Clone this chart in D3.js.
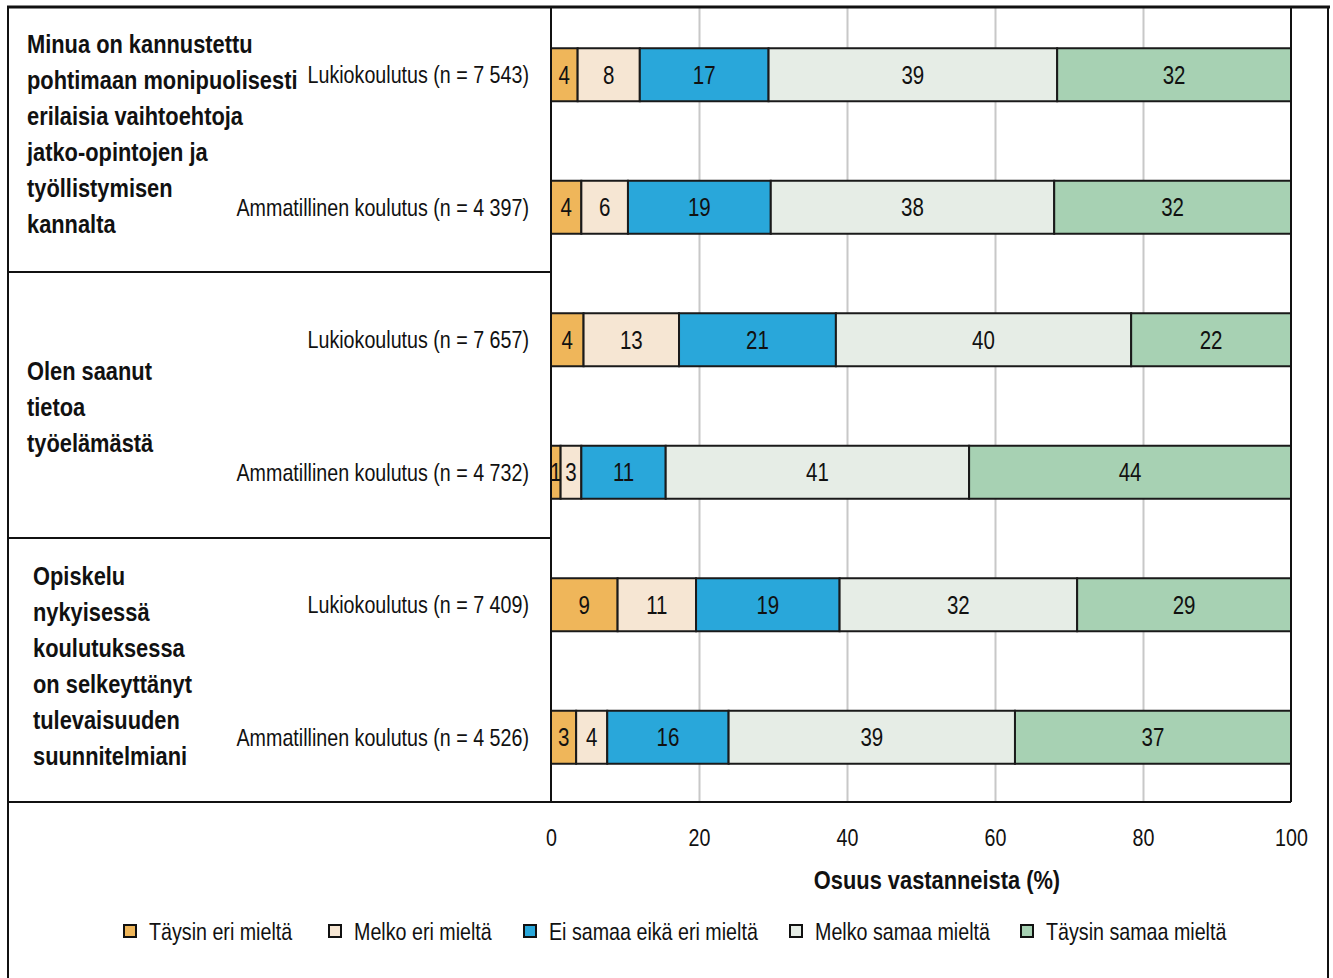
<!DOCTYPE html>
<html>
<head>
<meta charset="utf-8">
<script src="https://cdn.jsdelivr.net/npm/d3@7"></script>
<style>
  body { margin: 0; background: #fff; }
  svg text { font-family: "Liberation Sans", Arial, sans-serif; fill: #111; }
</style>
</head>
<body>
<div id="graph"></div>
<script>
// answer categories (legend order = stack order)
var categories = ["Täysin eri mieltä", "Melko eri mieltä", "Ei samaa eikä eri mieltä", "Melko samaa mieltä", "Täysin samaa mieltä"];
var colors = ["#efb65a", "#f6e6d3", "#29a7da", "#e6ede6", "#a7d1b3"];

// statement groups, label split into lines as in the picture
var groupLines = [
    ["Minua on kannustettu", "pohtimaan monipuolisesti", "erilaisia vaihtoehtoja", "jatko-opintojen ja", "työllistymisen", "kannalta"],
    ["Olen saanut", "tietoa", "työelämästä"],
    ["Opiskelu", "nykyisessä", "koulutuksessa", "on selkeyttänyt", "tulevaisuuden", "suunnitelmiani"]
];

// one row per bar
var rowLabels = [
    "Lukiokoulutus (n = 7 543)",
    "Ammatillinen koulutus (n = 4 397)",
    "Lukiokoulutus (n = 7 657)",
    "Ammatillinen koulutus (n = 4 732)",
    "Lukiokoulutus (n = 7 409)",
    "Ammatillinen koulutus (n = 4 526)"
];

// shares (%) per category, one value per row
var taysinEri  = [3.6, 4.1, 4.4, 1.3, 9.0, 3.4];
var melkoEri   = [8.4, 6.3, 12.9, 2.8, 10.6, 4.2];
var eiSamaa    = [17.4, 19.3, 21.2, 11.4, 19.4, 16.4];
var melkoSamaa = [39.0, 38.3, 39.9, 41.0, 32.1, 38.7];
var taysinSamaa = [31.6, 32.0, 21.6, 43.5, 28.9, 37.3];

var xTicks = [0, 20, 40, 60, 80, 100];

var W = 1333, H = 978;
var plotL = 551, plotR = 1291, plotT = 7, plotB = 802;
var narrow = 0.82;   // squeeze text horizontally, like a narrow font

// put x/y into a transform so the text can be squeezed
function condense(sel, s) {
    s = s || narrow;
    sel.each(function() {
        var t = d3.select(this);
        var tx = +t.attr("x") || 0, ty = +t.attr("y") || 0;
        t.attr("x", 0).attr("y", 0)
         .attr("transform", "translate(" + tx + "," + ty + ") scale(" + s + ",1)");
    });
}

var series = [taysinEri, melkoEri, eiSamaa, melkoSamaa, taysinSamaa];
var rows = rowLabels.map(function(l, i) {
    var r = { label: l, key: i };
    categories.forEach(function(c, j) { r[c] = series[j][i]; });
    return r;
});

var svg = d3.select("#graph").append("svg")
    .attr("width", W).attr("height", H);

var x = d3.scaleLinear().domain([0, 100]).range([plotL, plotR]);
var y = d3.scaleBand()
    .domain(rows.map(function(d) { return d.key; }))
    .range([plotT + 1.5, plotB + 1.5])
    .paddingInner(0.6)
    .paddingOuter(0.3);

// grid lines
svg.append("g")
    .attr("transform", "translate(0," + plotT + ")")
    .call(d3.axisBottom(x).tickValues([20, 40, 60, 80]).tickSize(plotB - plotT).tickFormat(""))
    .call(function(g) { g.select(".domain").remove(); })
    .selectAll("line")
    .attr("stroke", "#c8c8c8").attr("stroke-width", 2);

// stacked bars
var stack = d3.stack().keys(categories);
var layers = stack(rows);

var layer = svg.selectAll("g.layer")
    .data(layers)
    .enter().append("g")
    .attr("class", "layer")
    .attr("fill", function(d, i) { return colors[i]; });

layer.selectAll("rect")
    .data(function(d) { return d; })
    .enter().append("rect")
    .attr("x", function(d) { return x(d[0]); })
    .attr("y", function(d) { return y(d.data.key); })
    .attr("width", function(d) { return x(d[1]) - x(d[0]); })
    .attr("height", y.bandwidth())
    .attr("stroke", "#1a1a1a")
    .attr("stroke-width", 2);

var vals = svg.append("g").selectAll("text")
    .data(layers.flatMap(function(l) { return l; }))
    .enter().append("text")
    .attr("x", function(d) { return (x(d[0]) + x(d[1])) / 2; })
    .attr("y", function(d) { return y(d.data.key) + y.bandwidth() / 2; })
    .attr("dy", "0.36em")
    .attr("text-anchor", "middle")
    .style("font-size", "25px")
    .text(function(d) { return Math.round(d[1] - d[0]); });
condense(vals);

// row labels
var rl = svg.selectAll("text.row")
    .data(rows)
    .enter().append("text")
    .attr("class", "row")
    .attr("x", 529)
    .attr("y", function(d) { return y(d.key) + y.bandwidth() / 2; })
    .attr("dy", "0.36em")
    .attr("text-anchor", "end")
    .style("font-size", "24px")
    .text(function(d) { return d.label; });
condense(rl);

// group labels
var groupEdge = [plotT, 272, 538, 802];
var groupX = [27, 27, 33];
var groupShift = [-6, 2, -4];
groupLines.forEach(function(lines, gi) {
    var mid = (groupEdge[gi] + groupEdge[gi + 1]) / 2 + groupShift[gi];
    var t = svg.append("g").selectAll("text")
        .data(lines)
        .enter().append("text")
        .attr("x", groupX[gi])
        .attr("y", function(d, li) { return mid + (li - (lines.length - 1) / 2) * 36; })
        .attr("dy", "0.36em")
        .style("font-size", "26px")
        .style("font-weight", "bold")
        .text(function(d) { return d; });
    condense(t, 0.84);
});

// frame lines
var frame = svg.append("g").attr("stroke", "#111").attr("fill", "none");
frame.append("line").attr("x1", 7).attr("x2", 1330).attr("y1", plotT).attr("y2", plotT).attr("stroke-width", 3);
frame.append("line").attr("x1", 8).attr("x2", 8).attr("y1", plotT).attr("y2", H).attr("stroke-width", 2);
frame.append("line").attr("x1", 1328).attr("x2", 1328).attr("y1", plotT).attr("y2", H).attr("stroke-width", 2);
frame.append("line").attr("x1", x(0)).attr("x2", x(0)).attr("y1", plotT).attr("y2", plotB).attr("stroke-width", 2);
frame.append("line").attr("x1", x(100)).attr("x2", x(100)).attr("y1", plotT).attr("y2", plotB).attr("stroke-width", 2);
[272, 538].forEach(function(yy) {
    frame.append("line").attr("x1", 8).attr("x2", x(0)).attr("y1", yy).attr("y2", yy).attr("stroke-width", 2);
});
frame.append("line").attr("x1", 8).attr("x2", x(100)).attr("y1", plotB).attr("y2", plotB).attr("stroke-width", 2);

// x axis labels
svg.append("g")
    .attr("transform", "translate(0," + plotB + ")")
    .call(d3.axisBottom(x).tickValues(xTicks).tickSize(0).tickPadding(27))
    .call(function(g) { g.select(".domain").remove(); })
    .selectAll("text")
    .style("font-size", "24px")
    .attr("fill", "#111")
    .attr("transform", "scale(" + narrow + ",1)");

var title = svg.append("text")
    .attr("x", 937)
    .attr("y", 889)
    .attr("text-anchor", "middle")
    .style("font-size", "26px")
    .style("font-weight", "bold")
    .text("Osuus vastanneista (%)");
condense(title, 0.84);

// legend
var legendX = [124, 329, 524, 790, 1021];
var lg = svg.selectAll("g.legend")
    .data(categories)
    .enter().append("g")
    .attr("class", "legend")
    .attr("transform", function(d, i) { return "translate(" + legendX[i] + ",931)"; });
lg.append("rect")
    .attr("x", 0).attr("y", -6)
    .attr("width", 12).attr("height", 12)
    .attr("fill", function(d, i) { return colors[i]; })
    .attr("stroke", "#111").attr("stroke-width", 2);
var lt = lg.append("text")
    .attr("x", 25)
    .attr("dy", "0.36em")
    .style("font-size", "24px")
    .text(function(d) { return d; });
condense(lt);
</script>
</body>
</html>
